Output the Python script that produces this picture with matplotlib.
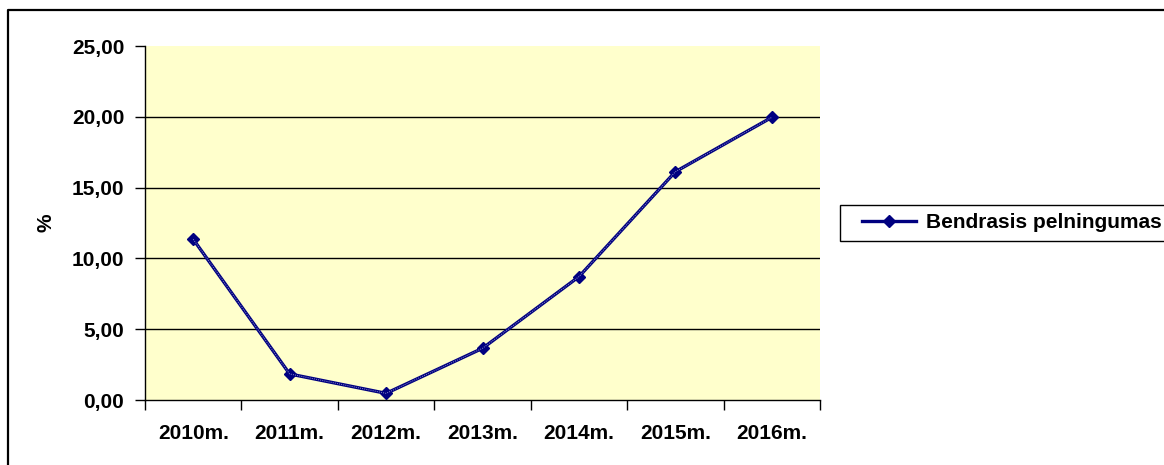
import matplotlib
matplotlib.use("Agg")
import matplotlib.pyplot as plt
from matplotlib.lines import Line2D
from matplotlib.patches import Rectangle

years = ["2010m.", "2011m.", "2012m.", "2013m.", "2014m.", "2015m.", "2016m."]
pelningumas = [11.35, 1.84, 0.47, 3.65, 8.71, 16.12, 19.96]
y_ticks = [0, 5, 10, 15, 20, 25]
y_tick_labels = ["0,00", "5,00", "10,00", "15,00", "20,00", "25,00"]
series_name = "Bendrasis pelningumas"
y_label = "%"

plt.rcParams['font.family'] = ['Liberation Sans', 'DejaVu Sans']
plt.rcParams['font.weight'] = 'bold'
FS = 15

W, H = 1164, 465
fig = plt.figure(figsize=(W / 100, H / 100), dpi=100)
fig.patch.set_facecolor('white')

ax = fig.add_axes([145 / W, 1 - 400 / H, (820 - 145) / W, (400 - 46) / H])
ax.set_facecolor('#FFFFCC')

x = list(range(len(years)))
navy = '#000080'
l1, = ax.plot(x, pelningumas, color=navy, lw=2.4, marker='D', markersize=6.3,
              markerfacecolor=navy, markeredgecolor=navy, zorder=3)
ax.plot(x, pelningumas, color='#8a8ac8', lw=0.7, dashes=(1, 1.2), zorder=4)

ax.set_xlim(-0.5, len(years) - 0.5)
ax.set_ylim(0, 25)
ax.set_yticks(y_ticks)
ax.set_yticklabels(y_tick_labels, fontsize=FS, fontweight='bold')
ax.set_xticks([i - 0.5 for i in range(len(years) + 1)])
ax.set_xticklabels([])
ax.set_xticks(x, minor=True)
ax.set_xticklabels(years, minor=True, fontsize=FS, fontweight='bold')
ax.tick_params(axis='x', which='minor', length=0, pad=17)
ax.tick_params(axis='x', which='major', length=7, width=1, color='black', direction='out')
ax.tick_params(axis='y', length=7, width=1, color='black', direction='out', pad=8)

for v in y_ticks[1:-1]:
    ax.axhline(v, color='black', lw=1, zorder=1)

for s in ['top', 'right']:
    ax.spines[s].set_visible(False)
for s in ['left', 'bottom']:
    ax.spines[s].set_color('black')
    ax.spines[s].set_linewidth(1)

fig.text(46 / W, 1 - 223 / H, y_label, rotation=90, ha='center', va='center',
         fontsize=FS, fontweight='bold')

# legend frame (extends past the right edge, as in the original)
fig.add_artist(Rectangle((839.5 / W, 1 - 241 / H), 400 / W, 36 / H,
                         transform=fig.transFigure, facecolor='white',
                         edgecolor='black', lw=1, zorder=5))
leg = fig.legend([l1], [series_name],
                 loc='center left', bbox_to_anchor=(862 / W, 1 - 223 / H),
                 bbox_transform=fig.transFigure, borderaxespad=0, frameon=False,
                 numpoints=1, handlelength=2.6, handletextpad=0.45, borderpad=0,
                 prop={'size': FS, 'weight': 'bold'})
leg.set_zorder(6)

# outer chart border (top and left visible)
fig.add_artist(Line2D([7.5 / W, 7.5 / W, 1.2], [-0.1, 1 - 10 / H, 1 - 10 / H],
                      transform=fig.transFigure, color='black', lw=1.6))

fig.savefig('out.png', dpi=100, facecolor='white')
